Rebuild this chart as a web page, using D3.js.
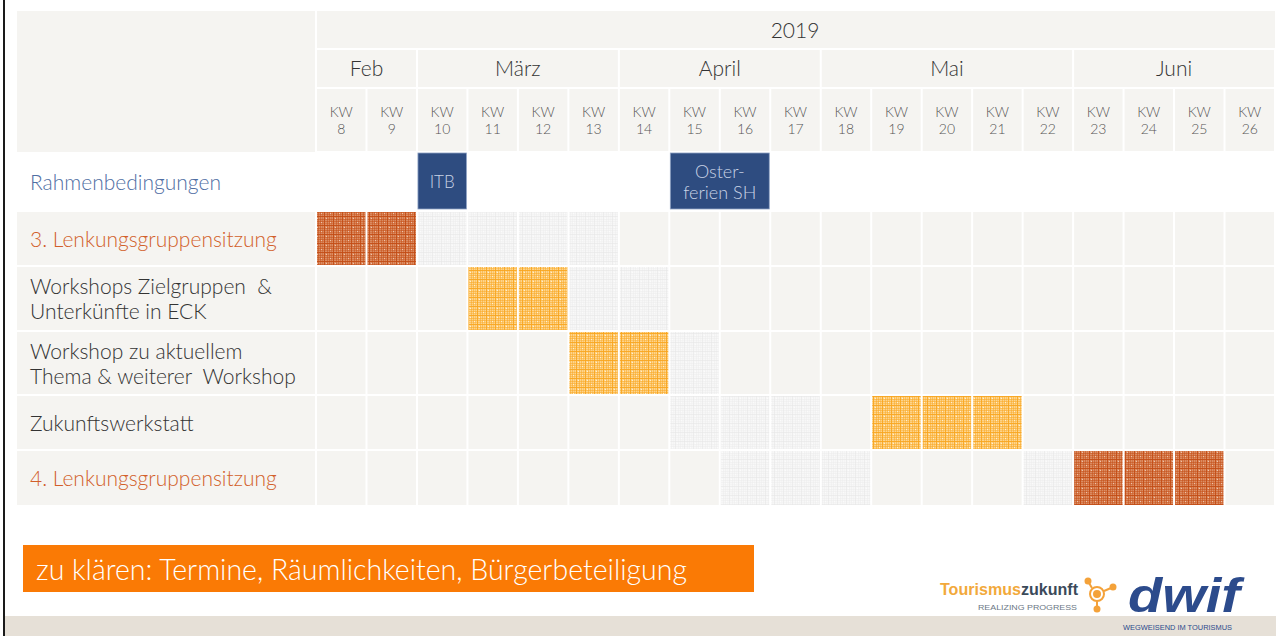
<!DOCTYPE html>
<html>
<head>
<meta charset="utf-8">
<script src="https://cdn.jsdelivr.net/npm/d3@7"></script>
<style>
  body { margin: 0; background: #fff; }
  svg { display: block; font-family: Lato, "Open Sans", sans-serif; font-weight: 300; }
</style>
</head>
<body>
<svg id="chart" width="1276" height="636"></svg>
<script>
// data
const year = "2019";
const weeks = [8, 9, 10, 11, 12, 13, 14, 15, 16, 17, 18, 19, 20, 21, 22, 23, 24, 25, 26];
const months = ["Feb", "März", "April", "Mai", "Juni"];
const monthFirstWeek = [8, 10, 14, 18, 23];
const monthLastWeek = [9, 13, 17, 22, 26];
const rowLabels = [
  ["Rahmenbedingungen"],
  ["3. Lenkungsgruppensitzung"],
  ["Workshops Zielgruppen  &", "Unterkünfte in ECK"],
  ["Workshop zu aktuellem", "Thema & weiterer  Workshop"],
  ["Zukunftswerkstatt"],
  ["4. Lenkungsgruppensitzung"]
];
const rowKinds = ["frame", "milestone", "task", "task", "task", "milestone"];
const frameLabels = [["ITB"], ["Oster-", "ferien SH"]];
const frameFrom = [10, 15];
const frameTo = [10, 16];
const activeWeeks = [[], [8, 9], [11, 12], [13, 14], [19, 20, 21], [23, 24, 25]];
const bufferWeeks = [[], [10, 11, 12, 13], [13, 14], [15], [15, 16, 17], [16, 17, 18, 22]];
const note = "zu klären: Termine, Räumlichkeiten, Bürgerbeteiligung";

// layout
const left = 17, labelRight = 315, right = 1275;
const rowHeights = [59, 55, 65, 64, 55, 56];
const bodyTop = 152;
const cellBg = "#f5f4f1";
const labelColor = { frame: "#4f6ea3", milestone: "#d25f2a", task: "#333333" };

const svg = d3.select("#chart");

// plaid patterns
const defs = svg.append("defs");
function plaid(id, bg, line, light, strength) {
  const p = defs.append("pattern").attr("id", id)
    .attr("patternUnits", "userSpaceOnUse").attr("width", 9).attr("height", 9);
  p.append("rect").attr("width", 9).attr("height", 9).attr("fill", bg);
  [[0, 0.9], [3, 0.5], [5, 0.5], [7, 0.35]].forEach(([o, a]) => {
    p.append("rect").attr("x", o).attr("y", 0).attr("width", 1).attr("height", 9)
      .attr("fill", line).attr("opacity", a * strength);
    p.append("rect").attr("x", 0).attr("y", o).attr("width", 9).attr("height", 1)
      .attr("fill", line).attr("opacity", a * strength);
  });
  p.append("rect").attr("x", 2).attr("y", 2).attr("width", 1).attr("height", 1).attr("fill", light);
  p.append("rect").attr("x", 6).attr("y", 6).attr("width", 1).attr("height", 1).attr("fill", light);
}
plaid("pat-milestone", "#db8c62", "#c44c14", "#efc4ac", 1);
plaid("pat-task", "#fdd48c", "#f9a61f", "#fff0d0", 1);
plaid("pat-buffer", "#f7f7f7", "#e8e8e8", "#fbfbfb", 0.7);

const x = d3.scaleBand().domain(weeks).range([labelRight + 1, right]);
const bw = x.bandwidth();
const rowTops = [bodyTop, ...d3.cumsum(rowHeights).map(d => bodyTop + d)];

// frame
svg.append("rect").attr("x", 3).attr("y", 0).attr("width", 2).attr("height", 636).attr("fill", "#1a1a1a");
svg.append("rect").attr("x", 5).attr("y", 616).attr("width", 1271).attr("height", 20).attr("fill", "#e6e0d7");

// header
svg.append("rect").attr("x", left).attr("y", 11).attr("width", labelRight - left).attr("height", 141).attr("fill", cellBg);
svg.append("rect").attr("x", labelRight + 2).attr("y", 11).attr("width", right - labelRight - 2).attr("height", 37).attr("fill", cellBg);
svg.append("text").attr("x", (labelRight + right) / 2).attr("y", 38).attr("text-anchor", "middle")
  .attr("font-size", 21).attr("fill", "#333").text(year);

months.forEach((m, i) => {
  const x0 = x(monthFirstWeek[i]), x1 = x(monthLastWeek[i]) + bw;
  svg.append("rect").attr("x", x0 + 1).attr("y", 50).attr("width", x1 - x0 - 2).attr("height", 37).attr("fill", cellBg);
  svg.append("text").attr("x", (x0 + x1) / 2).attr("y", 76).attr("text-anchor", "middle")
    .attr("font-size", 21).attr("fill", "#333").text(m);
});

const kw = svg.append("g").selectAll("g").data(weeks).join("g");
kw.append("rect").attr("x", d => x(d) + 1).attr("y", 89).attr("width", bw - 2).attr("height", 62).attr("fill", cellBg);
kw.append("text").attr("x", d => x(d) + bw / 2).attr("y", 117).attr("text-anchor", "middle")
  .attr("font-size", 14).attr("fill", "#555").text("KW");
kw.append("text").attr("x", d => x(d) + bw / 2).attr("y", 134).attr("text-anchor", "middle")
  .attr("font-size", 14).attr("fill", "#555").text(d => d);

// body rows
rowLabels.forEach((lines, r) => {
  const y0 = rowTops[r], h = rowHeights[r], kind = rowKinds[r];
  const g = svg.append("g");
  if (kind !== "frame") {
    g.append("rect").attr("x", left).attr("y", y0 + 1).attr("width", labelRight - left).attr("height", h - 2).attr("fill", cellBg);
    g.selectAll("rect.cell").data(weeks).join("rect").attr("class", "cell")
      .attr("x", d => x(d) + 1).attr("y", y0 + 1).attr("width", bw - 2).attr("height", h - 2)
      .attr("fill", d => activeWeeks[r].includes(d) ? `url(#pat-${kind})`
        : bufferWeeks[r].includes(d) ? "url(#pat-buffer)" : cellBg);
  }
  const lh = 25;
  const firstY = y0 + h / 2 - (lines.length - 1) * lh / 2 + 8;
  lines.forEach((t, i) => {
    g.append("text").attr("x", 30).attr("y", firstY + i * lh).attr("font-size", 21)
      .attr("fill", labelColor[kind]).attr("xml:space", "preserve").text(t);
  });
});

// framework events
frameLabels.forEach((lines, i) => {
  const x0 = x(frameFrom[i]), x1 = x(frameTo[i]) + bw;
  const y0 = rowTops[0] + 1, h = rowHeights[0] - 3;
  svg.append("rect").attr("x", x0 + 1).attr("y", y0).attr("width", x1 - x0 - 2).attr("height", h)
    .attr("fill", "#2e4c80").attr("stroke", "#8ea2c4").attr("stroke-width", 0.8);
  const lh = 21;
  const firstY = y0 + h / 2 - (lines.length - 1) * lh / 2 + 7;
  lines.forEach((t, j) => {
    svg.append("text").attr("x", (x0 + x1) / 2).attr("y", firstY + j * lh).attr("text-anchor", "middle")
      .attr("font-size", lines.length > 1 ? 18 : 17).attr("fill", "#c9d3e6").text(t);
  });
});

// note box
svg.append("rect").attr("x", 23).attr("y", 545).attr("width", 731).attr("height", 47).attr("fill", "#fa7a05");
svg.append("text").attr("x", 36).attr("y", 580).attr("font-size", 28.5).attr("fill", "#fff").text(note);

// logos
const tz = svg.append("text").attr("x", 940).attr("y", 595).attr("font-family", "'Liberation Sans Narrow', 'Liberation Sans', sans-serif")
  .attr("font-weight", 700).attr("font-size", 16).attr("textLength", 138).attr("lengthAdjust", "spacingAndGlyphs");
tz.append("tspan").attr("fill", "#f2a93b").text("Tourismus");
tz.append("tspan").attr("fill", "#3b4a5a").text("zukunft");
svg.append("text").attr("x", 978).attr("y", 610).attr("font-family", "'Liberation Sans', sans-serif").attr("font-weight", 400)
  .attr("font-size", 8).attr("fill", "#6b7785").attr("textLength", 99).attr("lengthAdjust", "spacingAndGlyphs").text("REALIZING PROGRESS");
const ic = svg.append("g").attr("fill", "none").attr("stroke", "#f4a23a").attr("stroke-width", 2);
ic.append("circle").attr("cx", 1097).attr("cy", 594).attr("r", 7);
ic.append("circle").attr("cx", 1097).attr("cy", 594).attr("r", 3).attr("fill", "#f4a23a");
ic.append("line").attr("x1", 1092).attr("y1", 588).attr("x2", 1089).attr("y2", 583);
ic.append("line").attr("x1", 1104).attr("y1", 591).attr("x2", 1111).attr("y2", 588);
ic.append("line").attr("x1", 1097).attr("y1", 601).attr("x2", 1097).attr("y2", 606);
ic.append("circle").attr("cx", 1088).attr("cy", 581).attr("r", 2.5).attr("fill", "#f4a23a");
ic.append("circle").attr("cx", 1113).attr("cy", 587).attr("r", 2.5).attr("fill", "#f4a23a");
ic.append("circle").attr("cx", 1097).attr("cy", 609).attr("r", 2.5).attr("fill", "#f4a23a");
svg.append("text").attr("x", 1128).attr("y", 612).attr("font-family", "'Liberation Sans', sans-serif")
  .attr("font-weight", 700).attr("font-style", "italic").attr("font-size", 48).attr("fill", "#2c4b8c")
  .attr("textLength", 112).attr("lengthAdjust", "spacingAndGlyphs").text("dwif");
svg.append("text").attr("x", 1123).attr("y", 630).attr("font-family", "'Liberation Sans', sans-serif")
  .attr("font-size", 7).attr("fill", "#2c4b8c").attr("textLength", 109).attr("lengthAdjust", "spacingAndGlyphs")
  .text("WEGWEISEND IM TOURISMUS");
</script>
</body>
</html>
